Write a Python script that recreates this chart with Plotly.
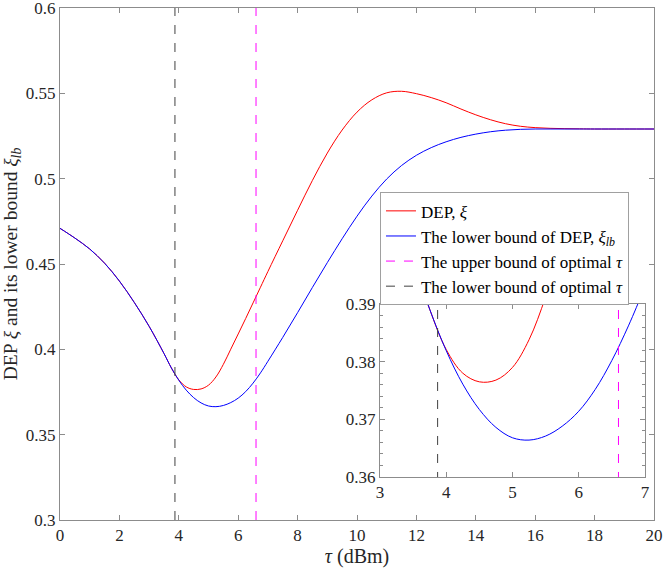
import plotly.graph_objects as go

# ---- data ----
tau = [0.0, 0.5, 1.0, 1.5, 2.0, 2.5, 3.0, 3.5, 3.75, 4.0, 4.25, 4.5, 4.75, 5.0, 5.25, 5.5,
       5.75, 6.0, 6.25, 6.5, 6.75, 7.0, 7.5, 8.0, 8.5, 9.0, 9.5, 10.0, 10.5, 11.0, 11.5,
       12.0, 12.5, 13.0, 13.5, 14.0, 14.5, 15.0, 15.5, 16.0, 16.5, 17.0, 17.5, 18.0, 19.0, 20.0]
dep = [0.4709, 0.4652, 0.4588, 0.4505, 0.4400, 0.4275, 0.4135, 0.3976, 0.3891, 0.3821, 0.3780,
       0.3765, 0.3768, 0.3790, 0.3838, 0.3912, 0.4001, 0.4090, 0.4180, 0.4272, 0.4364, 0.4456,
       0.4636, 0.4815, 0.4990, 0.5150, 0.5285, 0.5390, 0.5462, 0.5503, 0.5512, 0.5498, 0.5475,
       0.5445, 0.5408, 0.5374, 0.5345, 0.5322, 0.5307, 0.5299, 0.5295, 0.5293, 0.5292, 0.5291,
       0.5291, 0.5291]
dep_lb = [0.4709, 0.4652, 0.4588, 0.4505, 0.4400, 0.4275, 0.4135, 0.3976, 0.3891, 0.3819, 0.3761,
          0.3717, 0.3686, 0.3668, 0.3664, 0.3671, 0.3688, 0.3714, 0.3752, 0.3802, 0.3862, 0.3930,
          0.4070, 0.4215, 0.4363, 0.4508, 0.4648, 0.4780, 0.4898, 0.4998, 0.5077, 0.5137, 0.5182,
          0.5216, 0.5242, 0.5261, 0.5275, 0.5284, 0.5289, 0.5291, 0.5291, 0.5291, 0.5291, 0.5291,
          0.5291, 0.5291]
tau_upper = 6.60
tau_lower = 3.87

main_x_ticks = [0, 2, 4, 6, 8, 10, 12, 14, 16, 18, 20]
main_y_ticks = [0.3, 0.35, 0.4, 0.45, 0.5, 0.55, 0.6]
inset_x_ticks = [3, 4, 5, 6, 7]
inset_y_ticks = [0.36, 0.37, 0.38, 0.39]

FONT = "Liberation Serif, Times New Roman, DejaVu Serif, serif"
AXC = "#8c8c8c"
TXT = "#262626"

fig = go.Figure()

for xa, ya, show in [("x", "y", True), ("x2", "y2", False)]:
    fig.add_trace(go.Scatter(x=tau, y=dep, mode="lines",
                             line=dict(color="#ff0000", width=1, shape="spline", smoothing=1),
                             name="DEP, <i>ξ</i>", xaxis=xa, yaxis=ya, showlegend=show))
    fig.add_trace(go.Scatter(x=tau, y=dep_lb, mode="lines",
                             line=dict(color="#0000ff", width=1, shape="spline", smoothing=1),
                             name="The lower bound of DEP, <i>ξ</i><sub><i>lb</i></sub>",
                             xaxis=xa, yaxis=ya, showlegend=show))
    fig.add_trace(go.Scatter(x=[tau_upper, tau_upper], y=[0.3, 0.6], mode="lines",
                             line=dict(color="#ff00ff", width=1, dash="dash"),
                             name="The upper bound of optimal <i>τ</i>", xaxis=xa, yaxis=ya, showlegend=show))
    fig.add_trace(go.Scatter(x=[tau_lower, tau_lower], y=[0.3, 0.6], mode="lines",
                             line=dict(color="#404040", width=1, dash="dash"),
                             name="The lower bound of optimal <i>τ</i>", xaxis=xa, yaxis=ya, showlegend=show))

common = dict(showgrid=False, zeroline=False, showline=True, linecolor=AXC, linewidth=1,
              mirror="ticks", ticks="inside", tickcolor=AXC, ticklen=5, automargin=False,
              ticklabeloverflow="allow",
              tickfont=dict(family=FONT, size=17, color=TXT))

fig.update_layout(
    width=664, height=568,
    margin=dict(l=60, r=10, t=8, b=48),
    paper_bgcolor="white", plot_bgcolor="white",
    font=dict(family=FONT, size=17, color=TXT),
    xaxis=dict(range=[0, 20], tickvals=main_x_ticks, domain=[0, 1],
               title=dict(text="<i>τ</i> (dBm)", font=dict(family=FONT, size=20, color=TXT), standoff=4),
               **common),
    yaxis=dict(range=[0.3, 0.6], tickvals=main_y_ticks, ticktext=[f"{v:g}" for v in main_y_ticks],
               domain=[0, 1],
               title=dict(text="DEP <i>ξ</i> and its lower bound <i>ξ</i><sub><i>lb</i></sub>",
                          font=dict(family=FONT, size=19.5, color=TXT), standoff=3),
               **common),
    xaxis2=dict(range=[3, 7], tickvals=inset_x_ticks, domain=[0.5387, 0.9848], anchor="y2", **common),
    yaxis2=dict(range=[0.36, 0.39], tickvals=inset_y_ticks, ticktext=[f"{v:.2f}" for v in inset_y_ticks],
                domain=[0.084, 0.4219], anchor="x2",
                minor=dict(dtick=0.002, ticks="inside", ticklen=3, tickcolor=AXC),
                **common),
    legend=dict(x=0.5387, y=0.64, xanchor="left", yanchor="top",
                bgcolor="white", bordercolor="#a0a0a0", borderwidth=1,
                font=dict(family=FONT, size=17, color="#000000"),
                tracegroupgap=0, itemwidth=30),
    showlegend=True,
)

fig.write_html("out.html", config={"displayModeBar": False},
               post_script="document.body.style.margin='0px';")
